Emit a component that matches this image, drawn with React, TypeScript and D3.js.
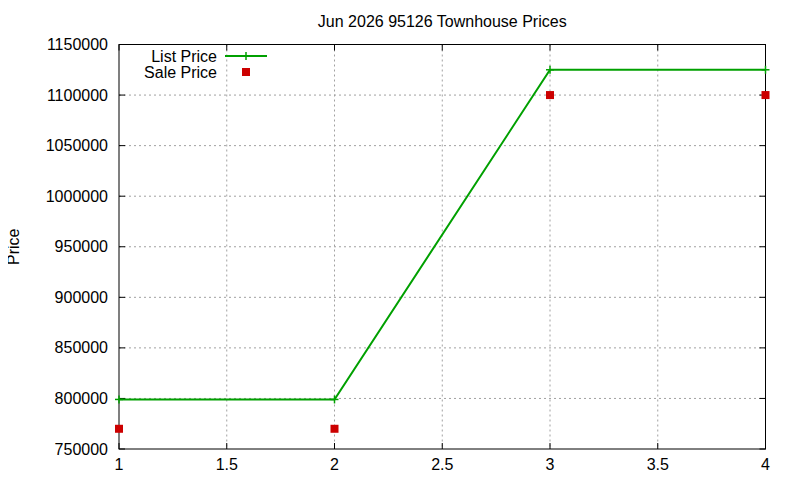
import { useEffect, useRef } from 'react';
import * as d3 from 'd3';

const xValues = [1, 2, 3, 4];
const listPrices = [799000, 799000, 1125000, 1125000];
const salePrices = [770000, 770000, 1100000, 1100000];
const xTicks = [1, 1.5, 2, 2.5, 3, 3.5, 4];
const yTicks = [750000, 800000, 850000, 900000, 950000, 1000000, 1050000, 1100000, 1150000];

const App = (): JSX.Element => {
  const svgRef = useRef<SVGSVGElement>(null);

  useEffect(() => {
    const width = 800;
    const height = 480;
    const left = 119;
    const right = 765.5;
    const top = 44.5;
    const bottom = 449;
    const font = 'Liberation Sans, Arial, sans-serif';
    const fs = '16px';
    const green = '#00a000';
    const red = '#cc0000';

    const svg = d3.select(svgRef.current)
      .attr('width', width)
      .attr('height', height)
      .style('display', 'block')
      .style('font-family', font);

    svg.append('rect').attr('width', width).attr('height', height).attr('fill', 'white');

    const x = d3.scaleLinear().domain([1, 4]).range([left, right]);
    const y = d3.scaleLinear().domain([750000, 1150000]).range([bottom, top]);

    // grid
    const grid = svg.append('g')
      .attr('stroke', '#a0a0a0')
      .attr('stroke-width', 1)
      .attr('stroke-dasharray', '2,3');
    xTicks.slice(1, -1).forEach(t => {
      grid.append('line').attr('x1', x(t)).attr('x2', x(t)).attr('y1', top).attr('y2', bottom);
    });
    yTicks.slice(1, -1).forEach(t => {
      grid.append('line').attr('x1', left).attr('x2', right).attr('y1', y(t)).attr('y2', y(t));
    });

    // ticks (inward, mirrored)
    const ticks = svg.append('g').attr('stroke', 'black').attr('stroke-width', 1);
    xTicks.forEach(t => {
      ticks.append('line').attr('x1', x(t)).attr('x2', x(t)).attr('y1', bottom).attr('y2', bottom - 6);
      ticks.append('line').attr('x1', x(t)).attr('x2', x(t)).attr('y1', top).attr('y2', top + 6);
    });
    yTicks.forEach(t => {
      ticks.append('line').attr('x1', left).attr('x2', left + 6).attr('y1', y(t)).attr('y2', y(t));
      ticks.append('line').attr('x1', right).attr('x2', right - 6).attr('y1', y(t)).attr('y2', y(t));
    });

    svg.append('rect')
      .attr('x', left).attr('y', top)
      .attr('width', right - left).attr('height', bottom - top)
      .attr('fill', 'none').attr('stroke', 'black').attr('stroke-width', 1);

    // tick labels
    svg.append('g').selectAll('text').data(xTicks).enter().append('text')
      .attr('x', d => x(d))
      .attr('y', bottom + 21)
      .attr('text-anchor', 'middle')
      .attr('font-size', fs)
      .text(d => String(d));

    svg.append('g').selectAll('text').data(yTicks).enter().append('text')
      .attr('x', left - 11)
      .attr('y', d => y(d) + 5.5)
      .attr('text-anchor', 'end')
      .attr('font-size', fs)
      .text(d => String(d));

    // title and axis label
    svg.append('text')
      .attr('x', (left + right) / 2)
      .attr('y', 26.5)
      .attr('text-anchor', 'middle')
      .attr('font-size', fs)
      .text('Jun 2026 95126 Townhouse Prices');

    svg.append('text')
      .attr('transform', `translate(18.5,${(top + bottom) / 2}) rotate(-90)`)
      .attr('text-anchor', 'middle')
      .attr('font-size', fs)
      .text('Price');

    // list price line
    const line = d3.line<number>()
      .x((_d, i) => x(xValues[i]))
      .y(d => y(d));

    svg.append('path')
      .datum(listPrices)
      .attr('d', line)
      .attr('fill', 'none')
      .attr('stroke', green)
      .attr('stroke-width', 2);

    const plus = (g: d3.Selection<SVGGElement, unknown, null, undefined>, cx: number, cy: number) => {
      g.append('line').attr('x1', cx - 4).attr('x2', cx + 4).attr('y1', cy).attr('y2', cy);
      g.append('line').attr('x1', cx).attr('x2', cx).attr('y1', cy - 4).attr('y2', cy + 4);
    };

    const plusG = svg.append('g').attr('stroke', green).attr('stroke-width', 1.5);
    listPrices.forEach((v, i) => plus(plusG, x(xValues[i]), y(v)));

    svg.append('g').selectAll('rect').data(salePrices).enter().append('rect')
      .attr('x', (_d, i) => x(xValues[i]) - 4)
      .attr('y', d => y(d) - 4)
      .attr('width', 8)
      .attr('height', 8)
      .attr('fill', red);

    // legend
    const legend = svg.append('g');
    legend.append('text')
      .attr('x', 217).attr('y', 61.5)
      .attr('text-anchor', 'end')
      .attr('font-size', fs)
      .text('List Price');
    legend.append('line')
      .attr('x1', 225).attr('x2', 267).attr('y1', 56).attr('y2', 56)
      .attr('stroke', green).attr('stroke-width', 2);
    const legPlus = legend.append('g').attr('stroke', green).attr('stroke-width', 1.5);
    plus(legPlus, 246, 56);
    legend.append('text')
      .attr('x', 217).attr('y', 77.5)
      .attr('text-anchor', 'end')
      .attr('font-size', fs)
      .text('Sale Price');
    legend.append('rect')
      .attr('x', 242).attr('y', 68).attr('width', 8).attr('height', 8)
      .attr('fill', red);

    return () => {
      d3.select(svgRef.current).selectAll('*').remove();
    };
  }, []);

  return (
    <div style={{ margin: -8 }}>
      <svg ref={svgRef}></svg>
    </div>
  );
};

export default App;
